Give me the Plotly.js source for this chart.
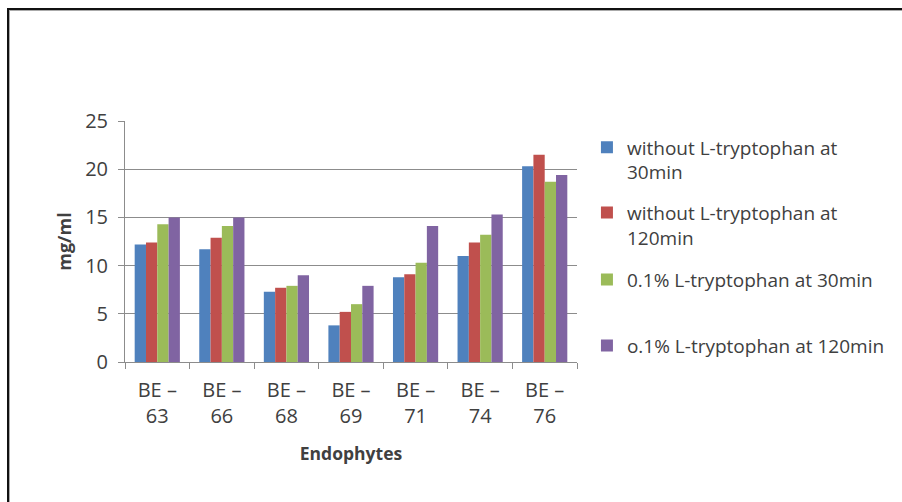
<!DOCTYPE html>
<html>
<head>
<meta charset="utf-8">
<script src="https://cdn.plot.ly/plotly-3.0.1.min.js"></script>
<style>
  html, body { margin: 0; padding: 0; background: #fff; }
  #wrap { position: relative; width: 902px; height: 502px; overflow: hidden; }
  #chart { position: absolute; left: 0; top: 0; width: 902px; height: 502px; }
  #frame { position: absolute; left: 7px; top: 8px; width: 900px; height: 500px;
           border-top: 2px solid #111; border-left: 2px solid #111;
           box-shadow: inset 1px 1px 0 #aaa; pointer-events: none; }
</style>
</head>
<body>
<div id="wrap">
  <div id="chart"></div>
  <div id="frame"></div>
</div>
<script>
// IAA production (mg/ml) of endophyte isolates
const categories = ["BE – 63", "BE – 66", "BE – 68", "BE – 69", "BE – 71", "BE – 74", "BE – 76"];

const seriesNames = [
  "without L-tryptophan at<br>30min",
  "without L-tryptophan at<br>120min",
  "0.1% L-tryptophan at 30min",
  "o.1% L-tryptophan at 120min"
];

const without30  = [12.2, 11.7, 7.3, 3.8, 8.8, 11.0, 20.3];
const without120 = [12.4, 12.9, 7.7, 5.2, 9.1, 12.4, 21.5];
const trp30      = [14.3, 14.1, 7.9, 6.0, 10.3, 13.2, 18.7];
const trp120     = [15.0, 15.0, 9.0, 7.9, 14.1, 15.3, 19.4];

const yTicks = [0, 5, 10, 15, 20, 25];

const colors = ["#4F81BD", "#C0504D", "#9BBB59", "#8064A2"];
const values = [without30, without120, trp30, trp120];
const legendIds = ["legend", "legend2", "legend3", "legend4"];
const legendY = [0.969, 0.699, 0.421, 0.147];

const FONT = "Open Sans, DejaVu Sans, sans-serif";
const TXT = "#404040";
const AXIS = "#8c8c8c";

// category labels split onto two lines
const tickText = categories.map(c => c.replace(" – ", " –<br>"));

const traces = values.map((v, i) => ({
  type: "bar",
  name: seriesNames[i],
  x: categories,
  y: v,
  marker: { color: colors[i], line: { width: 0 } },
  legend: legendIds[i],
  showlegend: true,
  hoverinfo: "x+y+name"
}));

const legendCommon = {
  x: 1.022, xanchor: "left", yanchor: "top",
  bgcolor: "rgba(0,0,0,0)",
  font: { family: FONT, size: 19, color: TXT },
  valign: "top",
  itemwidth: 30,
  visible: true
};

const layout = {
  width: 902, height: 502,
  margin: { l: 125, r: 321, t: 121, b: 140 },
  paper_bgcolor: "#fff",
  plot_bgcolor: "#fff",
  showlegend: true,
  barmode: "group",
  bargap: 0.3,
  bargroupgap: 0,
  font: { family: FONT, size: 19, color: TXT },
  xaxis: {
    type: "category",
    tickmode: "array",
    tickvals: categories,
    ticktext: tickText,
    tickson: "boundaries",
    ticks: "outside", ticklen: 6, tickcolor: AXIS, tickwidth: 1,
    ticklabelstandoff: 10,
    showline: true, linecolor: AXIS, linewidth: 1,
    showgrid: false,
    tickfont: { family: FONT, size: 20, color: TXT },
    title: { text: "<b>Endophytes</b>", font: { family: FONT, size: 17.5, color: TXT }, standoff: 19 }
  },
  yaxis: {
    range: [0, 25],
    tickmode: "array",
    tickvals: yTicks,
    ticks: "outside", ticklen: 6, tickcolor: AXIS, tickwidth: 1,
    ticklabelstandoff: 6,
    showline: true, linecolor: AXIS, linewidth: 1,
    showgrid: true, gridcolor: AXIS, gridwidth: 1,
    zeroline: false,
    tickfont: { family: FONT, size: 20, color: TXT },
    title: { text: "<b>mg/ml</b>", font: { family: FONT, size: 18, color: TXT }, standoff: 8 }
  },
  legend:  Object.assign({}, legendCommon, { y: legendY[0] }),
  legend2: Object.assign({}, legendCommon, { y: legendY[1] }),
  legend3: Object.assign({}, legendCommon, { y: legendY[2] }),
  legend4: Object.assign({}, legendCommon, { y: legendY[3] })
};

Plotly.newPlot("chart", traces, layout, { displayModeBar: false, staticPlot: true });
</script>
</body>
</html>
